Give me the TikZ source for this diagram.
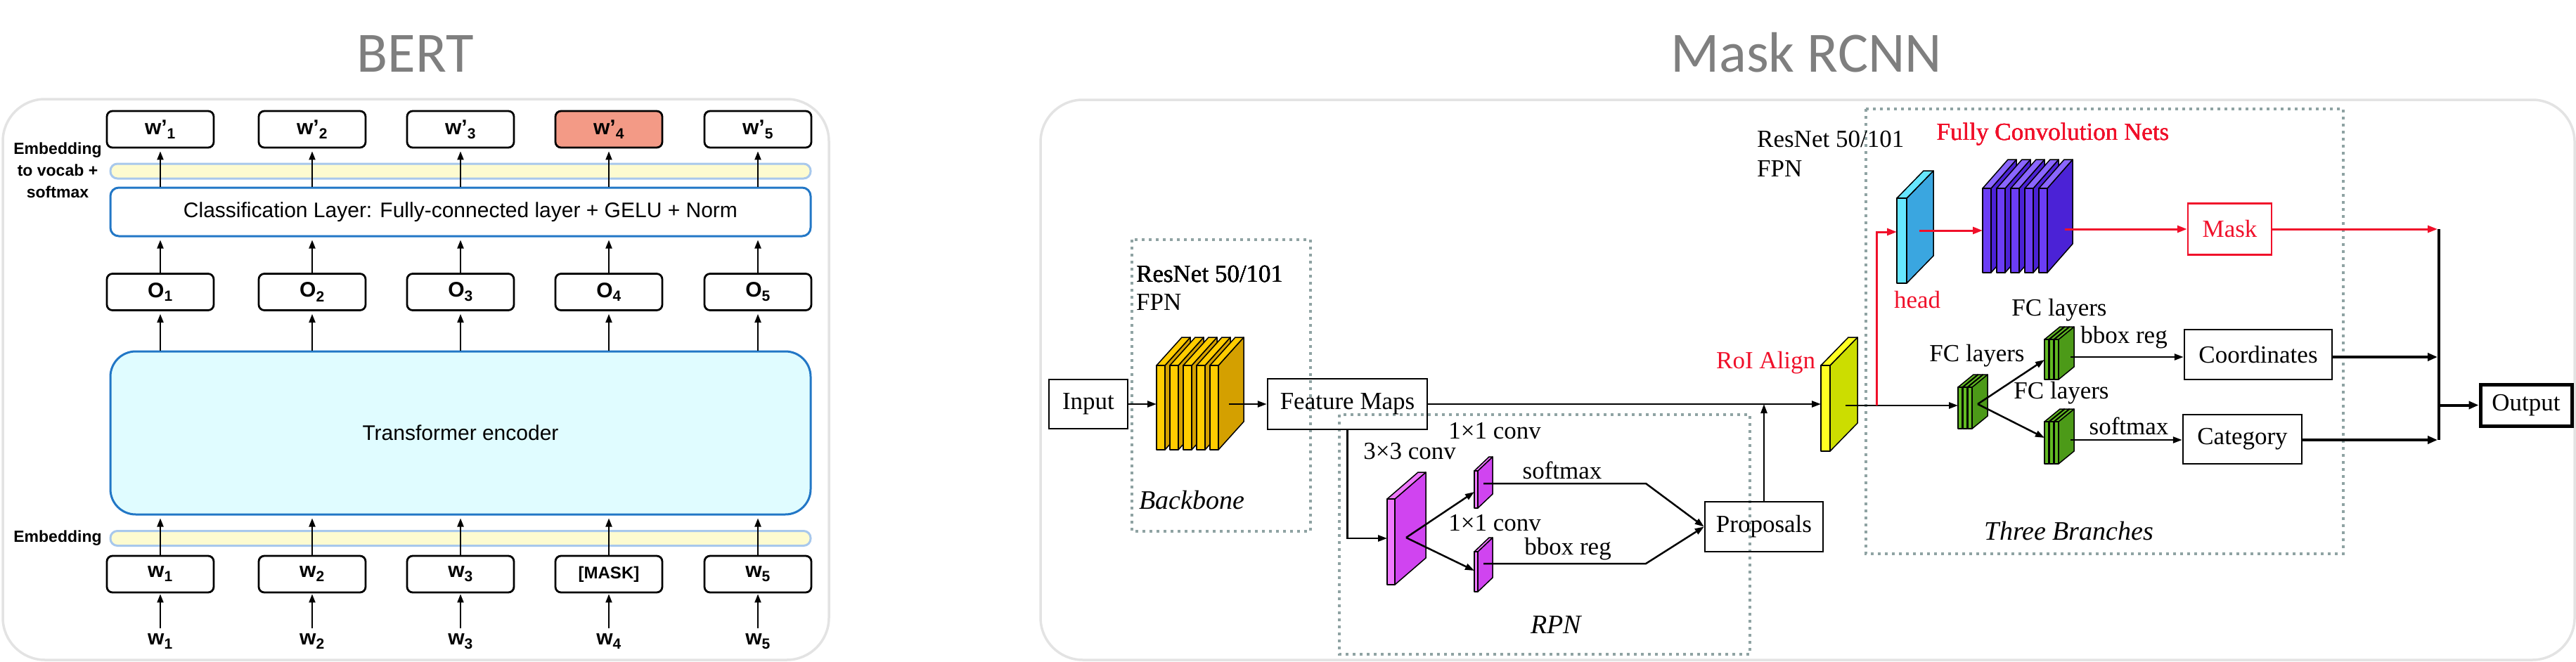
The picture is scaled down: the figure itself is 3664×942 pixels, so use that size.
\documentclass[tikz,border=0pt]{standalone}
\usepackage{fontspec}
\setmainfont{Liberation Serif}
\newfontfamily\arialf{Liberation Sans}
\newfontfamily\calibf{Carlito}
\usetikzlibrary{arrows.meta,calc}
\definecolor{panelgray}{HTML}{E3E3E3}
\definecolor{titlegray}{HTML}{7F7F7F}
\definecolor{bertblue}{HTML}{2277C6}
\definecolor{enccyan}{HTML}{E0FCFF}
\definecolor{barfill}{HTML}{FDFBD0}
\definecolor{barline}{HTML}{A8C8EC}
\definecolor{salmon}{HTML}{F39A86}
\definecolor{dotgray}{HTML}{8FA3A3}
\definecolor{mred}{HTML}{F0102A}
\definecolor{yelF}{HTML}{FFCC00}
\definecolor{yelS}{HTML}{D4A000}
\definecolor{bluF}{HTML}{6B3DF5}
\definecolor{bluS}{HTML}{4B22D6}
\definecolor{bluT}{HTML}{8A66FF}
\definecolor{grnF}{HTML}{62BA22}
\definecolor{grnS}{HTML}{4C9A18}
\definecolor{roiF}{HTML}{FFFF22}
\definecolor{roiS}{HTML}{CCDD00}
\definecolor{hedF}{HTML}{66E6FF}
\definecolor{hedS}{HTML}{3AA6E0}
\definecolor{purF}{HTML}{F07AFF}
\definecolor{purS}{HTML}{D044F0}
\newcommand{\slab}[9]{%
  \filldraw[fill=#8,slabline] ({#1+#3},{#2}) -- ({#1+#3},{#2+#4}) -- ({#1+#3+#5},{#2+#4-#6}) -- ({#1+#3+#5},{#2-#6}) -- cycle;
  \filldraw[fill=#9,slabline] ({#1},{#2}) -- ({#1+#3},{#2}) -- ({#1+#3+#5},{#2-#6}) -- ({#1+#5},{#2-#6}) -- cycle;
  \filldraw[fill=#7,slabline] ({#1},{#2}) rectangle ({#1+#3},{#2+#4});
}
\begin{document}
\begin{tikzpicture}[x=1pt,y=-1pt,
  slabline/.style={draw=black,line width=1.5pt,line join=round},
  panel/.style={draw=panelgray,line width=3.5pt,rounded corners=60pt},
  title/.style={font=\calibf\fontsize{81}{90}\selectfont,text=titlegray,anchor=base,inner sep=0pt},
  bbox/.style={draw=black,line width=2.8pt,rounded corners=8pt,minimum width=152pt,minimum height=52pt,inner sep=0pt,font=\arialf\bfseries\fontsize{30}{32}\selectfont},
  blabel/.style={inner sep=0pt,font=\arialf\bfseries\fontsize{30}{32}\selectfont},
  bside/.style={inner sep=0pt,align=center,font=\arialf\bfseries\fontsize{23}{31}\selectfont},
  bar/.style={draw=barline,fill=barfill,line width=3pt,rounded corners=10pt,minimum width=996pt,minimum height=21pt,inner sep=0pt},
  layer/.style={draw=bertblue,line width=3pt,inner sep=0pt,minimum width=996pt,font=\arialf\fontsize{30}{32}\selectfont},
  barrow/.style={line width=2pt,-{Triangle[length=12pt,width=9pt]},shorten >=4pt},
  mbox/.style={draw=black,line width=2.5pt,inner sep=0pt,font=\fontsize{35}{40}\selectfont},
  mtext/.style={inner sep=0pt,font=\fontsize{35}{40}\selectfont},
  mital/.style={inner sep=0pt,font=\itshape\fontsize{38}{42}\selectfont},
  marrow/.style={line width=2.5pt,-{Triangle[length=13pt,width=9pt]}},
  rarrow/.style={draw=mred,line width=3pt,-{Triangle[length=14pt,width=10pt]}},
  tarrow/.style={line width=4pt,-{Triangle[length=14pt,width=11pt]}},
  dotbox/.style={draw=dotgray,line width=4pt,dash pattern=on 4pt off 6pt}]
\useasboundingbox (0,0) rectangle (3664,942);

% ================= BERT =================
\draw[panel] (4,141) rectangle (1179,939);
\node[title] (berttitle) at (591,102) {BERT};

\node[bar] (vbar) at (655,243.5) {};
\node[layer,rounded corners=12pt,minimum height=69pt,fill=white] (cls) at (655,301.5) {Classification Layer: Fully-connected layer + GELU + Norm};
\node[layer,rounded corners=36pt,minimum height=232pt,fill=enccyan] (enc) at (655,616) {Transformer encoder};
\node[bar] (ebar) at (655,766) {};

\node[bside] (vlab) at (82,242) {Embedding\\to vocab +\\softmax};
\node[bside] (elab) at (82,766) {Embedding};

\foreach \i/\x/\f in {1/228/white,2/444/white,3/655/white,4/866/salmon,5/1078/white}{
  \node[bbox,fill=\f] (wp\i) at (\x,184) {w’\textsubscript{\i}};
  \node[bbox] (o\i) at (\x,415.5) {O\textsubscript{\i}};
  \node[blabel] (in\i) at (\x,913) {w\textsubscript{\i}};
}
\foreach \i/\x in {1/228,2/444,3/655,5/1078}
  \node[bbox] (w\i) at (\x,817) {w\textsubscript{\i}};
\node[bbox,font=\arialf\bfseries\fontsize{24}{26}\selectfont] (w4) at (866,817) {[MASK]};

\foreach \i in {1,...,5}{
  \draw[barrow] (cls.north -| wp\i.south) -- (wp\i.south);
  \draw[barrow] (o\i.north) -- (cls.south -| o\i.north);
  \draw[barrow] (enc.north -| o\i.south) -- (o\i.south);
  \draw[barrow] (w\i.north) -- (enc.south -| w\i.north);
  \draw[barrow,shorten >=1pt] ([yshift=8pt]in\i.north) -- (w\i.south);
}

% ================= Mask RCNN =================
\draw[panel] (1480,142) rectangle (3662,939);
\node[title] (masktitle) at (2569,102) {Mask RCNN};

% dotted group boxes
\draw[dotbox] (1610,341) rectangle (1864,756);
\draw[dotbox] (1905,590) rectangle (2489,931);
\draw[dotbox] (2654,155) rectangle (3333,788);

% backbone
\node[mbox,minimum width=112pt,minimum height=70pt] (input) at (1548,575) {Input};
\foreach \k in {0,...,4}
  \slab{1645+19*\k}{520}{12}{120}{36}{40}{yelF}{yelS}{yelF}
\node[mtext,anchor=west] (rn1) at (1616,390) {ResNet 50/101};
\node[mtext,anchor=west] (fpn1) at (1616,430) {FPN};
\node[mital,anchor=west] (bbl) at (1620,712) {Backbone};
\node[mbox,minimum width=227pt,minimum height=72pt] (fmaps) at (1916.5,575) {Feature Maps};

% RPN
\slab{1973}{710}{11}{122}{44}{38}{purF}{purS}{purF}
\slab{2097}{670}{5}{53}{21}{20}{purF}{purS}{purF}
\slab{2097}{785}{5}{57}{21}{20}{purF}{purS}{purF}
\node[mtext] (c33) at (2005,642) {3×3 conv};
\node[mtext] (c11a) at (2126,613) {1×1 conv};
\node[mtext] (c11b) at (2126,744) {1×1 conv};
\node[mtext] (smx1) at (2222,669) {softmax};
\node[mtext] (bbr1) at (2230,781) {bbox reg};
\node[mital] (rpn) at (2213,889) {RPN};
\node[mbox,minimum width=168pt,minimum height=71pt] (prop) at (2509,749.5) {Proposals};

% RoI Align
\slab{2590}{520}{13}{122}{39}{40}{roiF}{roiS}{roiF}
\node[mtext,text=mred,anchor=west] (roil) at (2441,516) {RoI Align};
\node[mtext,anchor=west] (rn2) at (2499,198) {ResNet 50/101};
\node[mtext,anchor=west] (fpn2) at (2499,240) {FPN};

% three branches
\slab{2698}{282}{14}{121}{38}{39}{hedF}{hedS}{hedF}
\node[mtext,text=mred] (headl) at (2727,427) {head};
\foreach \k in {0,...,4}
  \slab{2820+20*\k}{268}{12}{120}{36}{41}{bluF}{bluS}{bluT}
\node[mtext,text=mred] (fcn) at (2920,191) {Fully Convolution Nets};
\node[mbox,draw=mred,text=mred,minimum width=119pt,minimum height=73pt] (mask) at (3171.5,326) {Mask};

\foreach \k in {0,1,2}{
  \slab{2785+7*\k}{551}{6}{59}{22}{18}{grnF}{grnS}{grnF}
  \slab{2908+7*\k}{483}{6}{57}{22}{18}{grnF}{grnS}{grnF}
  \slab{2908+7*\k}{600}{6}{60}{22}{18}{grnF}{grnS}{grnF}
}
\node[mtext] (fcl1) at (2812,506) {FC layers};
\node[mtext] (fcl2) at (2929,441) {FC layers};
\node[mtext] (fcl3) at (2932,559) {FC layers};
\node[mtext] (bbr2) at (3021,480) {bbox reg};
\node[mtext] (smx2) at (3028,606) {softmax};
\node[mbox,minimum width=210pt,minimum height=71pt] (coord) at (3212,504.5) {Coordinates};
\node[mbox,minimum width=169pt,minimum height=70pt] (cat) at (3189.5,625) {Category};
\node[mital] (tbl) at (2943,756) {Three Branches};
\node[mbox,line width=5pt,minimum width=130pt,minimum height=59pt] (output) at (3593,576.5) {Output};

% connection points
\coordinate (yelin) at (1645,575);
\coordinate (yelout) at (1748,575);
\coordinate (purpin) at (1973,766);
\coordinate (purpc) at (2000,765);
\coordinate (sp1in) at (2097,700);
\coordinate (sp1out) at (2110,688);
\coordinate (bend1) at (2341,688);
\coordinate (sp2in) at (2097,812);
\coordinate (sp2out) at (2110,802);
\coordinate (bend2) at (2341,802);
\coordinate (roiin) at (2590,575);
\coordinate (roic) at (2625,577);
\coordinate (split) at (2669,577);
\coordinate (headin) at (2698,330);
\coordinate (headc) at (2730,328);
\coordinate (bluein) at (2820,328);
\coordinate (blueout) at (2937,326);
\coordinate (fc1in) at (2785,577);
\coordinate (fc1c) at (2813,575);
\coordinate (fc2in) at (2908,512);
\coordinate (fc2out) at (2945,508);
\coordinate (fc3in) at (2908,623);
\coordinate (fc3out) at (2945,626);
\coordinate (mtop) at (3469,326);
\coordinate (mbot) at (3469,626);

% connectors
\draw[marrow] (input.east) -- (yelin);
\draw[marrow] (yelout) -- (fmaps.west);
\draw[marrow] (fmaps.east) -- (roiin);
\draw[marrow] (fmaps.south) |- (purpin);
\draw[marrow] (purpc) -- (sp1in);
\draw[marrow] (purpc) -- (sp2in);
\draw[marrow] (sp1out) -- (bend1) -- (prop.west);
\draw[marrow] (sp2out) -- (bend2) -- (prop.west);
\draw[marrow] (prop.north) -- (prop.north |- roiin);
\draw[line width=2.5pt] (roic) -- (split);
\draw[marrow] (split) -- (fc1in);
\draw[rarrow] (split) |- (headin);
\draw[rarrow] (headc) -- (bluein);
\draw[rarrow] (blueout) -- (mask.west);
\draw[rarrow,shorten >=2pt] (mask.east) -- (mtop);
\draw[marrow] (fc1c) -- (fc2in);
\draw[marrow] (fc1c) -- (fc3in);
\draw[marrow] (fc2out) -- (fc2out -| coord.west);
\draw[marrow] (fc3out) -- (fc3out -| cat.west);
\draw[tarrow,shorten >=2pt] (coord.east |- fc2out) -- (mtop |- fc2out);
\draw[tarrow,shorten >=2pt] (cat.east |- fc3out) -- (mtop |- fc3out);
\draw[line width=4pt] (mtop) -- (mbot);
\draw[tarrow] (mtop |- output.west) -- (output.west);
\end{tikzpicture}
\end{document}
